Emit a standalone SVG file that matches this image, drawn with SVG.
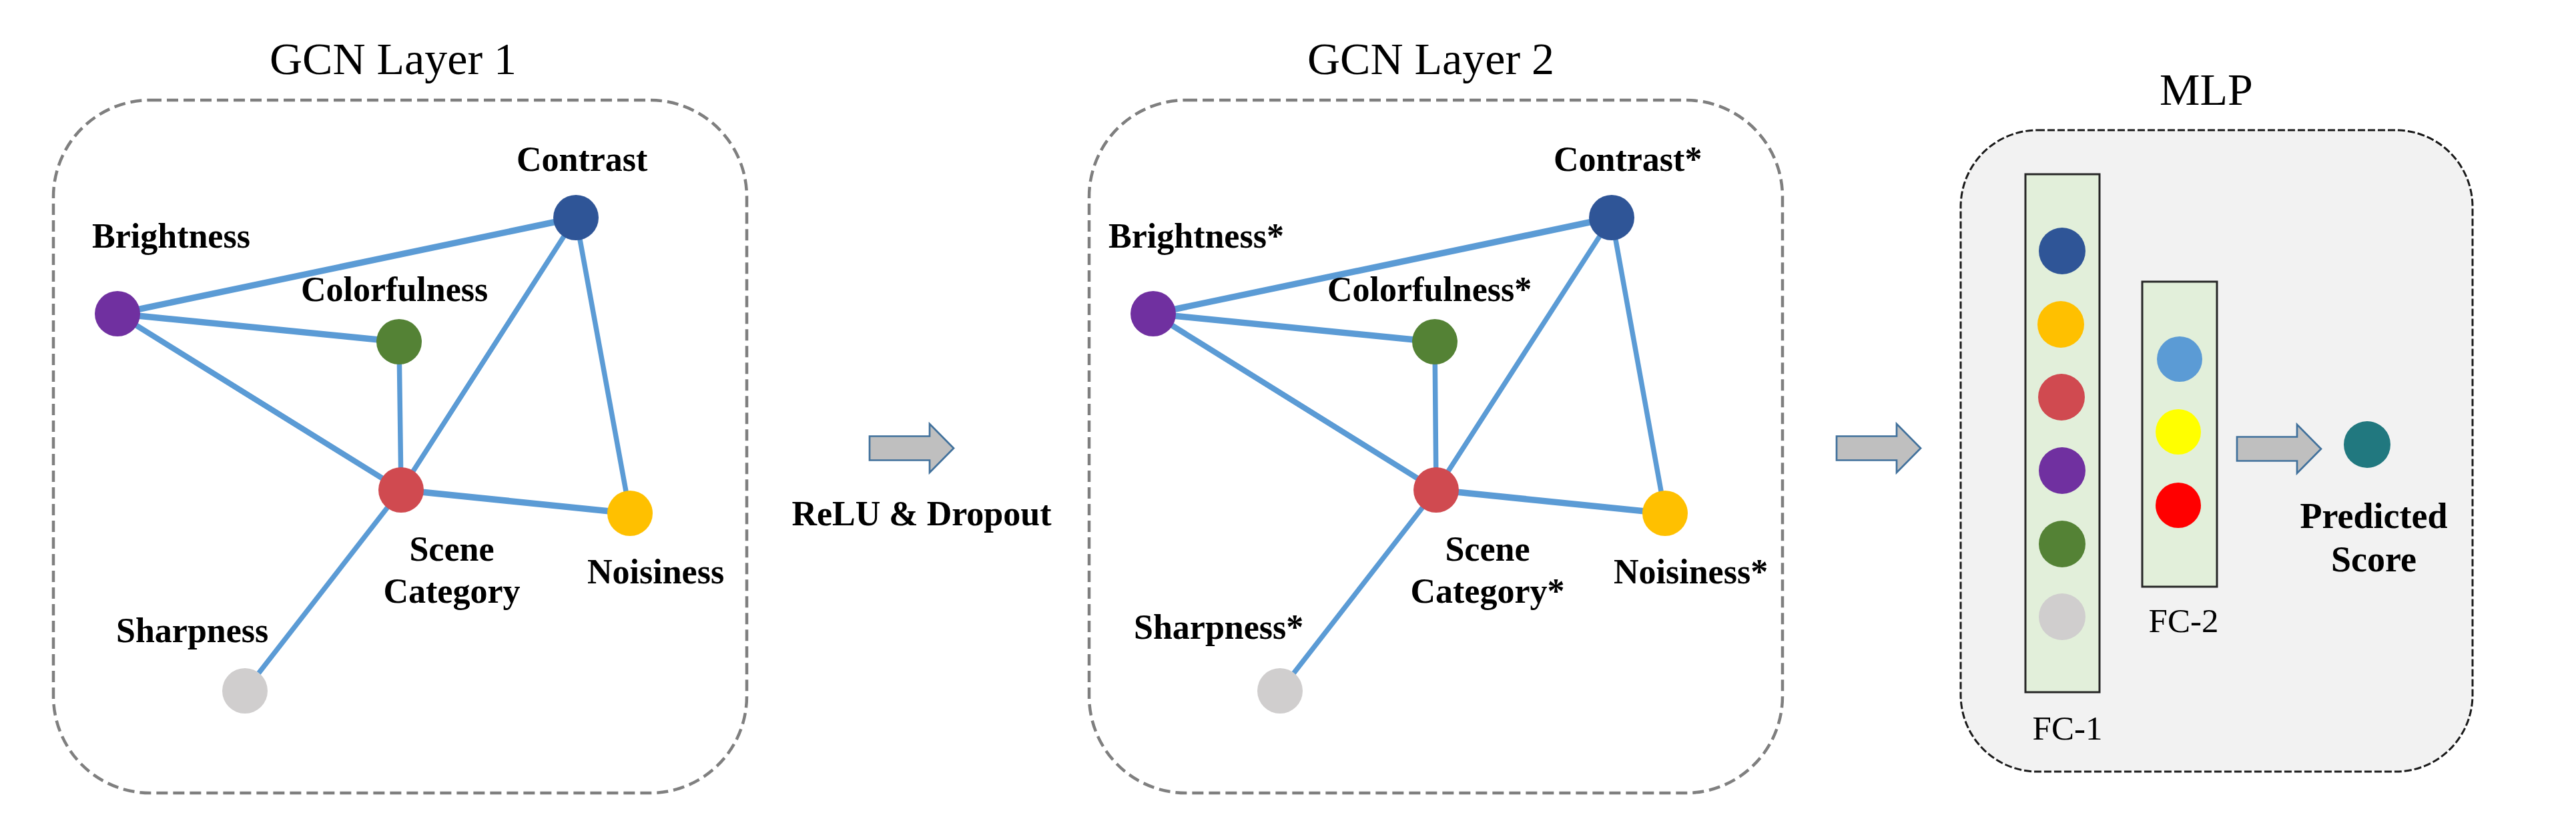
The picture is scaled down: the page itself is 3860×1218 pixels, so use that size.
<svg xmlns="http://www.w3.org/2000/svg" width="3860" height="1218" viewBox="0 0 3860 1218">
<style>
.title{font-family:"Liberation Serif","Times New Roman",serif;font-size:68px;fill:#000;text-anchor:middle}
.lbl{font-family:"Liberation Serif","Times New Roman",serif;font-size:52px;font-weight:bold;fill:#000}
.mid{text-anchor:middle}
.fc{font-family:"Liberation Serif","Times New Roman",serif;font-size:51px;fill:#000;text-anchor:middle}
.gbox{fill:#fff;stroke:#7f7f7f;stroke-width:4.5;stroke-dasharray:17 8}
.mbox{fill:#f2f2f2;stroke:#1a1a1a;stroke-width:3;stroke-dasharray:11 4}
.fcr{fill:#e2efda;stroke:#262626;stroke-width:3}
.e{stroke:#5b9bd5;stroke-linecap:round;fill:none}
.t{stroke-width:9.5}
.m{stroke-width:8.5}
.n{stroke-width:7.5}
.arr{fill:#bfbfbf;stroke:#41719c;stroke-width:2.7;stroke-linejoin:miter}
</style>
<defs>
<path id="arrow" d="M0,-18 H90 V-36.5 L126,0 L90,36.5 V18 H0 Z"/>
</defs>
<rect width="3860" height="1218" fill="#fff"/>

<g id="gcn1-frame">
<rect class="gbox" x="80" y="150" width="1039" height="1038" rx="145" ry="145"/>
<text class="title" x="589" y="111">GCN Layer 1</text>
</g>
<g id="gcn2-frame">
<rect class="gbox" x="1632" y="150" width="1039" height="1038" rx="145" ry="145"/>
<text class="title" x="2144" y="111">GCN Layer 2</text>
</g>
<g id="mlp-frame">
<rect class="mbox" x="2938" y="195" width="767" height="961" rx="115" ry="115"/>
<text class="title" x="3306" y="157">MLP</text>
</g>

<g id="connectors">
<line class="e t" x1="176" y1="470" x2="863" y2="326"/>
<line class="e t" x1="176" y1="470" x2="598" y2="512"/>
<line class="e m" x1="176" y1="470" x2="601" y2="734"/>
<line class="e n" x1="598" y1="512" x2="601" y2="734"/>
<line class="e n" x1="863" y1="326" x2="601" y2="734"/>
<line class="e n" x1="863" y1="326" x2="944" y2="769"/>
<line class="e t" x1="601" y1="734" x2="944" y2="769"/>
<line class="e n" x1="601" y1="734" x2="367" y2="1035"/>

<line class="e t" x1="1728" y1="470" x2="2415" y2="326"/>
<line class="e t" x1="1728" y1="470" x2="2150" y2="512"/>
<line class="e m" x1="1728" y1="470" x2="2152" y2="734"/>
<line class="e n" x1="2150" y1="512" x2="2152" y2="734"/>
<line class="e n" x1="2415" y1="326" x2="2152" y2="734"/>
<line class="e n" x1="2415" y1="326" x2="2495" y2="769"/>
<line class="e t" x1="2152" y1="734" x2="2495" y2="769"/>
<line class="e n" x1="2152" y1="734" x2="1918" y2="1035"/>

<use href="#arrow" class="arr" x="1303" y="671.5"/>
<use href="#arrow" class="arr" x="2752" y="671.5"/>
<use href="#arrow" class="arr" x="3352" y="672.5"/>
</g>

<g id="relu-label"><text class="lbl mid" x="1381" y="787">ReLU &amp; Dropout</text></g>

<g id="l1-contrast"><circle cx="863" cy="326" r="34" fill="#2f5597"/><text class="lbl" x="774" y="256">Contrast</text></g>
<g id="l1-brightness"><circle cx="176" cy="470" r="34" fill="#7030a0"/><text class="lbl" x="138" y="371">Brightness</text></g>
<g id="l1-colorfulness"><circle cx="598" cy="512" r="34" fill="#548235"/><text class="lbl" x="451" y="451">Colorfulness</text></g>
<g id="l1-scene"><circle cx="601" cy="734" r="34" fill="#d04a50"/><text class="lbl mid" x="677" y="840">Scene</text><text class="lbl mid" x="677" y="903">Category</text></g>
<g id="l1-noisiness"><circle cx="944" cy="769" r="34" fill="#ffc000"/><text class="lbl" x="880" y="874">Noisiness</text></g>
<g id="l1-sharpness"><circle cx="367" cy="1035" r="34" fill="#d0cece"/><text class="lbl" x="174" y="962">Sharpness</text></g>

<g id="l2-contrast"><circle cx="2415" cy="326" r="34" fill="#2f5597"/><text class="lbl" x="2328" y="256">Contrast*</text></g>
<g id="l2-brightness"><circle cx="1728" cy="470" r="34" fill="#7030a0"/><text class="lbl" x="1661" y="371">Brightness*</text></g>
<g id="l2-colorfulness"><circle cx="2150" cy="512" r="34" fill="#548235"/><text class="lbl" x="1989" y="451">Colorfulness*</text></g>
<g id="l2-scene"><circle cx="2152" cy="734" r="34" fill="#d04a50"/><text class="lbl mid" x="2229" y="840">Scene</text><text class="lbl mid" x="2229" y="903">Category*</text></g>
<g id="l2-noisiness"><circle cx="2495" cy="769" r="34" fill="#ffc000"/><text class="lbl" x="2418" y="874">Noisiness*</text></g>
<g id="l2-sharpness"><circle cx="1918" cy="1035" r="34" fill="#d0cece"/><text class="lbl" x="1699" y="957">Sharpness*</text></g>

<g id="fc1">
<rect class="fcr" x="3035" y="261" width="111" height="776"/>
<circle cx="3090" cy="376" r="35" fill="#2f5597"/>
<circle cx="3088" cy="486" r="35" fill="#ffc000"/>
<circle cx="3089" cy="595" r="35" fill="#d04a50"/>
<circle cx="3090" cy="705" r="35" fill="#7030a0"/>
<circle cx="3090" cy="815" r="35" fill="#548235"/>
<circle cx="3090" cy="924" r="35" fill="#d0cece"/>
<text class="fc" x="3098" y="1108">FC-1</text>
</g>
<g id="fc2">
<rect class="fcr" x="3210" y="422" width="112" height="457"/>
<circle cx="3266" cy="538" r="34" fill="#5b9bd5"/>
<circle cx="3264" cy="647" r="34" fill="#ffff00"/>
<circle cx="3264" cy="757" r="34" fill="#ff0000"/>
<text class="fc" x="3272" y="947">FC-2</text>
</g>
<g id="predicted-score">
<circle cx="3547" cy="666" r="35" fill="#21787f"/>
<text class="lbl mid" x="3557" y="791" style="font-size:54px">Predicted</text>
<text class="lbl mid" x="3557" y="856" style="font-size:54px">Score</text>
</g>
</svg>
